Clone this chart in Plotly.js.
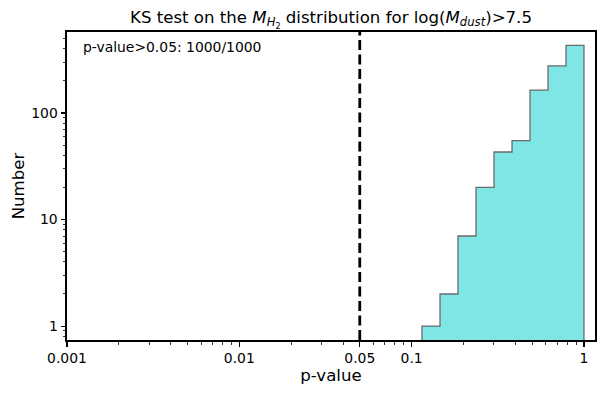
<!DOCTYPE html>
<html><head><meta charset="utf-8">
<script src="https://cdn.plot.ly/plotly-3.0.1.min.js"></script>
<style>html,body{margin:0;padding:0;background:#fff}</style>
</head><body>
<div id="chart" style="width:605px;height:394px"></div>
<script>
// Histogram bin edges (p-value) and counts
const binEdges = [0.1148, 0.1461, 0.1858, 0.2363, 0.3006, 0.3824, 0.4864, 0.6187, 0.787, 1.0];
const counts = [1, 2, 7, 20, 43, 55, 164, 277, 431];
const threshold = 0.05;
const xTickVals = [0.001, 0.01, 0.05, 0.1, 1];
const xTickText = ['0.001', '0.01', '0.05', '0.1', '1'];
const yTickVals = [1, 10, 100];
const yTickText = ['1', '10', '100'];
const annotationText = 'p-value>0.05: 1000/1000';

// build step outline polygon
const floorY = 0.3;
const xs = [binEdges[0]], ys = [floorY];
for (let i = 0; i < counts.length; i++) {
  xs.push(binEdges[i]); ys.push(counts[i]);
  xs.push(binEdges[i + 1]); ys.push(counts[i]);
}
xs.push(binEdges[binEdges.length - 1]); ys.push(floorY);

function minorTicks(lo, hi) {
  const out = [];
  for (let d = lo; d < hi; d++) {
    for (let m = 2; m <= 9; m++) out.push(m * Math.pow(10, d));
  }
  return out;
}

const traces = [
  {
    x: xs, y: ys, type: 'scatter', mode: 'lines', fill: 'toself',
    fillcolor: '#7fe6e6', line: {color: '#6b6b6b', width: 1.3},
    hoverinfo: 'skip', showlegend: false
  }
];

const layout = {
  width: 605, height: 394,
  margin: {l: 67, r: 10, t: 32, b: 54},
  paper_bgcolor: '#fff', plot_bgcolor: '#fff',
  font: {family: 'DejaVu Sans', size: 13.9, color: '#000'},
  title: {
    text: 'KS test on the <i>M</i><sub><i>H</i><sub>2</sub></sub> distribution for log(<i>M<sub>dust</sub></i>)>7.5',
    font: {size: 16.6, family: 'DejaVu Sans', color: '#000'},
    x: 0.5, xref: 'paper', xanchor: 'center', y: 1 - 17 / 394, yref: 'container', yanchor: 'middle'
  },
  xaxis: {
    type: 'log', range: [-3, Math.log10(1.159)],
    tickvals: xTickVals, ticktext: xTickText,
    ticks: 'outside', ticklen: 4.5, tickwidth: 1.1, tickcolor: '#000',
    minor: {ticks: 'outside', ticklen: 2.5, tickwidth: 0.8, tickcolor: '#000', tickvals: minorTicks(-3, 0), showgrid: false},
    showline: true, linecolor: '#000', linewidth: 2, mirror: true,
    showgrid: false, zeroline: false,
    tickfont: {size: 13.9},
    title: {text: 'p-value', font: {size: 16.6}, standoff: 4}
  },
  yaxis: {
    type: 'log', range: [Math.log10(0.74), Math.log10(575)],
    tickvals: yTickVals, ticktext: yTickText,
    ticks: 'outside', ticklen: 4.5, tickwidth: 1.1, tickcolor: '#000',
    minor: {ticks: 'outside', ticklen: 2.5, tickwidth: 0.8, tickcolor: '#000', tickvals: minorTicks(-1, 3), showgrid: false},
    showline: true, linecolor: '#000', linewidth: 2, mirror: true,
    showgrid: false, zeroline: false,
    tickfont: {size: 13.9},
    title: {text: 'Number', font: {size: 16.6}, standoff: 2}
  },
  shapes: [{
    type: 'line', xref: 'x', yref: 'paper', x0: threshold, x1: threshold, y0: 0, y1: 1,
    line: {color: '#000', width: 2.8, dash: '10px,4.5px'}
  }],
  annotations: [{
    text: annotationText, xref: 'paper', yref: 'paper', x: 0.027, y: 0.985,
    xanchor: 'left', yanchor: 'top', showarrow: false, font: {size: 13.9}
  }]
};

Plotly.newPlot('chart', traces, layout, {staticPlot: true, displayModeBar: false});
</script>
</body></html>
